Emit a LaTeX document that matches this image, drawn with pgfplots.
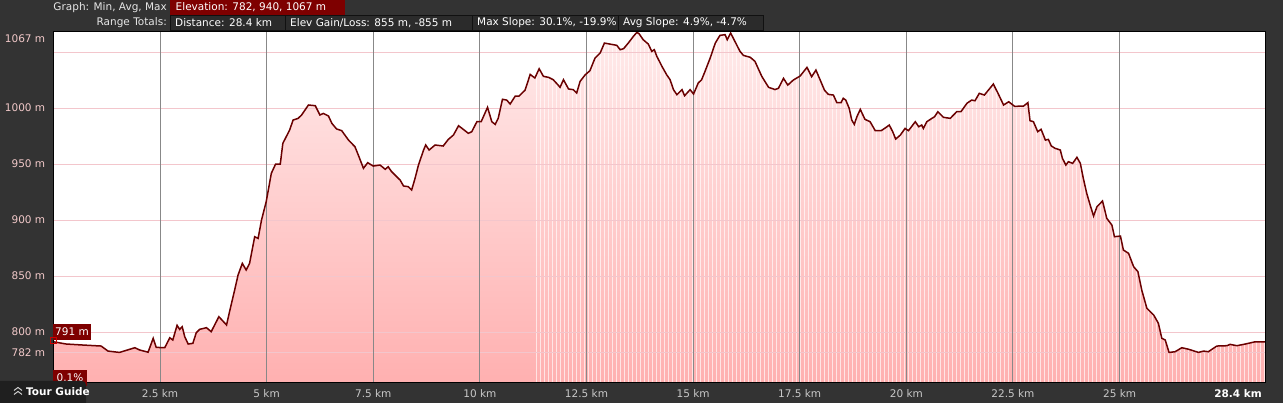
\documentclass[border=0pt]{standalone}
\usepackage{fontspec}
\setmainfont{DejaVu Sans}
\usepackage{pgfplots}
\usepackage{pgfplotstable}
\pgfplotsset{compat=1.18}
\usetikzlibrary{patterns}
\pgfdeclarepatternformonly{vstripes}{\pgfpointorigin}{\pgfqpoint{3.5pt}{1pt}}{\pgfqpoint{3.5pt}{1pt}}{\pgfpathrectangle{\pgfpointorigin}{\pgfqpoint{1.0pt}{1pt}}\pgfusepath{fill}}
\definecolor{bg}{HTML}{333333}
\definecolor{boxbg}{HTML}{2B2B2B}
\definecolor{boxline}{HTML}{111111}
\definecolor{elevred}{HTML}{7E0000}
\definecolor{linered}{HTML}{6A0000}
\definecolor{fillTop}{HTML}{FFEBEB}
\definecolor{fillBot}{HTML}{FFB0B0}
\definecolor{pinkgrid}{HTML}{F3C6CC}
\definecolor{vgrid}{HTML}{888888}
\definecolor{ylab}{HTML}{F2C9C9}
\definecolor{xlab}{HTML}{C8C8C8}
\definecolor{hdrtext}{HTML}{E6E6E6}

\pgfplotstableread{
km elev
0.00 791.3
0.30 789.3
0.69 788.4
1.12 787.5
1.28 783.0
1.55 781.8
1.91 786.0
2.02 784.0
2.22 782.0
2.34 794.4
2.41 786.3
2.61 786.0
2.73 794.9
2.80 792.9
2.90 806.0
2.96 802.4
3.02 804.8
3.08 795.8
3.16 789.3
3.27 789.9
3.35 799.4
3.43 802.4
3.59 803.9
3.70 800.3
3.88 813.7
4.06 806.3
4.13 818.1
4.25 837.5
4.33 850.9
4.43 861.3
4.52 855.4
4.60 861.3
4.72 885.1
4.80 883.6
4.88 900.0
4.99 916.4
5.11 941.7
5.21 950.0
5.32 950.0
5.38 968.5
5.54 980.4
5.62 989.3
5.74 990.8
5.82 993.8
5.98 1002.7
6.14 1002.1
6.25 993.8
6.33 995.2
6.45 992.9
6.53 986.3
6.64 981.3
6.76 979.8
6.92 971.4
7.07 965.5
7.15 958.0
7.27 946.2
7.37 951.2
7.50 948.2
7.66 949.1
7.78 945.3
7.85 947.6
7.93 943.2
8.01 940.2
8.13 935.7
8.21 930.4
8.32 929.8
8.40 926.8
8.48 937.2
8.56 949.1
8.68 962.5
8.73 967.0
8.81 962.5
8.95 967.0
9.14 966.1
9.26 972.0
9.38 975.9
9.50 984.2
9.61 981.0
9.73 977.4
9.81 978.9
9.93 987.8
10.03 987.8
10.18 1000.6
10.28 987.8
10.36 985.4
10.43 990.8
10.53 1007.8
10.63 1007.1
10.71 1003.6
10.83 1010.7
10.92 1010.7
11.06 1016.0
11.18 1030.0
11.29 1026.8
11.39 1035.1
11.49 1028.3
11.61 1027.4
11.72 1025.3
11.84 1020.3
11.88 1018.5
11.96 1025.3
12.08 1017.0
12.19 1016.4
12.27 1013.4
12.35 1023.8
12.47 1029.7
12.58 1033.3
12.70 1044.6
12.82 1049.1
12.92 1058.0
13.05 1057.1
13.21 1056.0
13.29 1052.1
13.37 1053.0
13.48 1058.0
13.60 1064.0
13.68 1067.5
13.73 1066.5
13.83 1061.0
13.95 1057.1
14.03 1050.6
14.09 1052.1
14.15 1046.1
14.27 1037.2
14.38 1029.7
14.46 1025.3
14.54 1016.4
14.62 1011.9
14.74 1016.4
14.80 1011.0
14.93 1016.4
15.01 1012.5
15.12 1022.3
15.20 1025.3
15.28 1032.8
15.40 1044.6
15.52 1058.0
15.63 1064.9
15.75 1065.5
15.80 1061.0
15.88 1067.0
15.98 1059.5
16.10 1050.6
16.18 1047.0
16.34 1045.3
16.45 1041.7
16.61 1028.3
16.77 1018.5
16.92 1016.5
17.00 1017.6
17.12 1026.5
17.22 1020.5
17.35 1025.0
17.51 1028.6
17.67 1036.3
17.78 1028.0
17.88 1033.9
17.98 1025.0
18.08 1016.0
18.17 1012.2
18.29 1011.6
18.37 1004.8
18.47 1004.8
18.52 1008.7
18.58 1007.1
18.66 999.7
18.72 989.3
18.78 985.4
18.84 992.2
18.92 998.8
19.03 989.9
19.15 987.8
19.27 979.8
19.41 979.8
19.49 981.8
19.60 984.8
19.68 978.9
19.75 972.3
19.86 975.9
19.97 981.8
20.05 979.8
20.21 987.8
20.29 983.3
20.36 984.8
20.40 981.8
20.48 987.8
20.60 990.8
20.66 992.2
20.74 996.7
20.87 991.7
21.03 990.8
21.18 996.7
21.28 996.7
21.42 1004.2
21.53 1007.1
21.61 1006.5
21.71 1013.1
21.83 1011.6
22.04 1021.4
22.15 1013.1
22.28 1002.7
22.40 1005.6
22.54 1001.5
22.75 1001.8
22.85 1004.8
22.90 988.7
22.98 987.8
23.08 978.9
23.16 981.0
23.26 971.4
23.33 972.0
23.40 966.1
23.49 964.0
23.61 962.5
23.66 955.1
23.74 949.1
23.80 952.1
23.90 950.6
24.00 956.0
24.08 950.6
24.15 937.2
24.23 923.8
24.31 913.4
24.39 903.6
24.47 911.9
24.60 917.0
24.70 901.5
24.82 895.5
24.88 885.1
25.02 885.7
25.09 873.2
25.21 870.3
25.33 858.3
25.43 853.9
25.52 837.5
25.64 821.2
25.80 815.2
25.91 807.8
25.99 794.4
26.07 792.9
26.16 781.8
26.30 782.4
26.46 786.0
26.62 784.6
26.85 781.8
26.97 783.0
27.08 782.4
27.28 787.5
27.52 787.8
27.59 789.0
27.75 787.8
27.95 789.3
28.18 791.3
28.41 791.3
}\elevdata

\begin{document}
\begin{tikzpicture}[x=1pt,y=1pt,font=\fontsize{10.5}{12}\selectfont]
\useasboundingbox (0,0) rectangle (1283,403);
\fill[bg] (0,0) rectangle (1283,403);
\fill[white] (53.4,20) rectangle (1265,371);
% header row 1
\node[anchor=east,text=hdrtext,inner sep=0pt] at (167,395.5) {Graph: Min, Avg, Max};
\fill[elevred] (170,387.5) rectangle (345,403);
\node[anchor=west,text=white,inner sep=0pt] at (175.5,395.5) {Elevation: 782, 940, 1067 m};
% header row 2
\node[anchor=east,text=hdrtext,inner sep=0pt] at (167,380) {Range Totals:};
\filldraw[fill=boxbg,draw=boxline,line width=1pt] (170,372.5) rectangle (285,387.5);
\filldraw[fill=boxbg,draw=boxline,line width=1pt] (285,372.5) rectangle (472,387.5);
\filldraw[fill=boxbg,draw=boxline,line width=1pt] (472,372.5) rectangle (618,387.5);
\filldraw[fill=boxbg,draw=boxline,line width=1pt] (618,372.5) rectangle (763,387.5);
\node[anchor=west,text=white,inner sep=0pt] at (175,380) {Distance: 28.4 km};
\node[anchor=west,text=white,inner sep=0pt] at (290,380) {Elev Gain/Loss: 855 m, -855 m};
\node[anchor=west,text=white,inner sep=0pt] at (477,380) {Max Slope: 30.1\%, -19.9\%};
\node[anchor=west,text=white,inner sep=0pt] at (623,380) {Avg Slope: 4.9\%, -4.7\%};

\begin{axis}[
  name=ax,
  at={(53.4pt,20pt)}, anchor=south west,
  scale only axis, width=1211.6pt, height=351pt,
  xmin=0, xmax=28.41, ymin=754.5, ymax=1067.9,
  axis on top,
  axis line style={draw=black,line width=1pt},
  major tick length=0pt,
  xtick={2.5,5,7.5,10,12.5,15,17.5,20,22.5,25},
  xticklabels={2.5 km,5 km,7.5 km,10 km,12.5 km,15 km,17.5 km,20 km,22.5 km,25 km},
  ytick={782,800,850,900,950,1000},
  yticklabels={782 m,800 m,850 m,900 m,950 m,1000 m},
  extra y ticks={1067},
  extra y tick labels={1067 m},
  extra y tick style={yticklabel style={yshift=-6pt}},
  xticklabel style={text=xlab,anchor=center,yshift=-11pt,inner sep=0pt},
  yticklabel style={text=ylab,anchor=east,xshift=-8pt,inner sep=0pt},
  /pgf/number format/assume math mode=true,
  clip=true,
]
\addplot[draw=none, top color=fillTop, bottom color=fillBot] table[x=km,y=elev]{\elevdata} \closedcycle;
\addplot[draw=none, pattern=vstripes, pattern color=white, restrict x to domain=11.2:28.41] table[x=km,y=elev]{\elevdata} \closedcycle;
\pgfplotsinvokeforeach{782,800,850,900,950,1000,1050}{
  \draw[pinkgrid,line width=1pt] (axis cs:0,#1) -- (axis cs:28.41,#1);
}
\pgfplotsinvokeforeach{2.5,5,7.5,10,12.5,15,17.5,20,22.5,25}{
  \draw[vgrid,line width=1pt] (axis cs:#1,754.5) -- (axis cs:#1,1067.9);
}
\addplot[linered, line width=1.5pt] table[x=km,y=elev]{\elevdata};
\end{axis}
% right end label
\node[anchor=east,text=white,inner sep=0pt] at (1262,9) {\bfseries 28.4 km};
% cursor boxes
\fill[elevred] (53,63) rectangle (91,79);
\node[text=white,inner sep=0pt] at (72,71) {791 m};
\draw[red!80!black,line width=1pt] (50.5,59) rectangle (56.5,65);
\fill[elevred] (53,17) rectangle (87,33);
\node[text=white,inner sep=0pt] at (70,25) {0.1\%};
% tour guide button
\fill[black!88] (0,0) -- (0,22) -- (82,22) arc (90:0:4) -- (86,0) -- cycle;
\draw[white!80!black,line width=1pt] (14,8.5) -- (18,11.5) -- (22,8.5);
\draw[white!80!black,line width=1pt] (14,12.5) -- (18,15.5) -- (22,12.5);
\node[anchor=west,text=white,inner sep=0pt] at (26,11) {\bfseries Tour Guide};
\end{tikzpicture}
\end{document}
